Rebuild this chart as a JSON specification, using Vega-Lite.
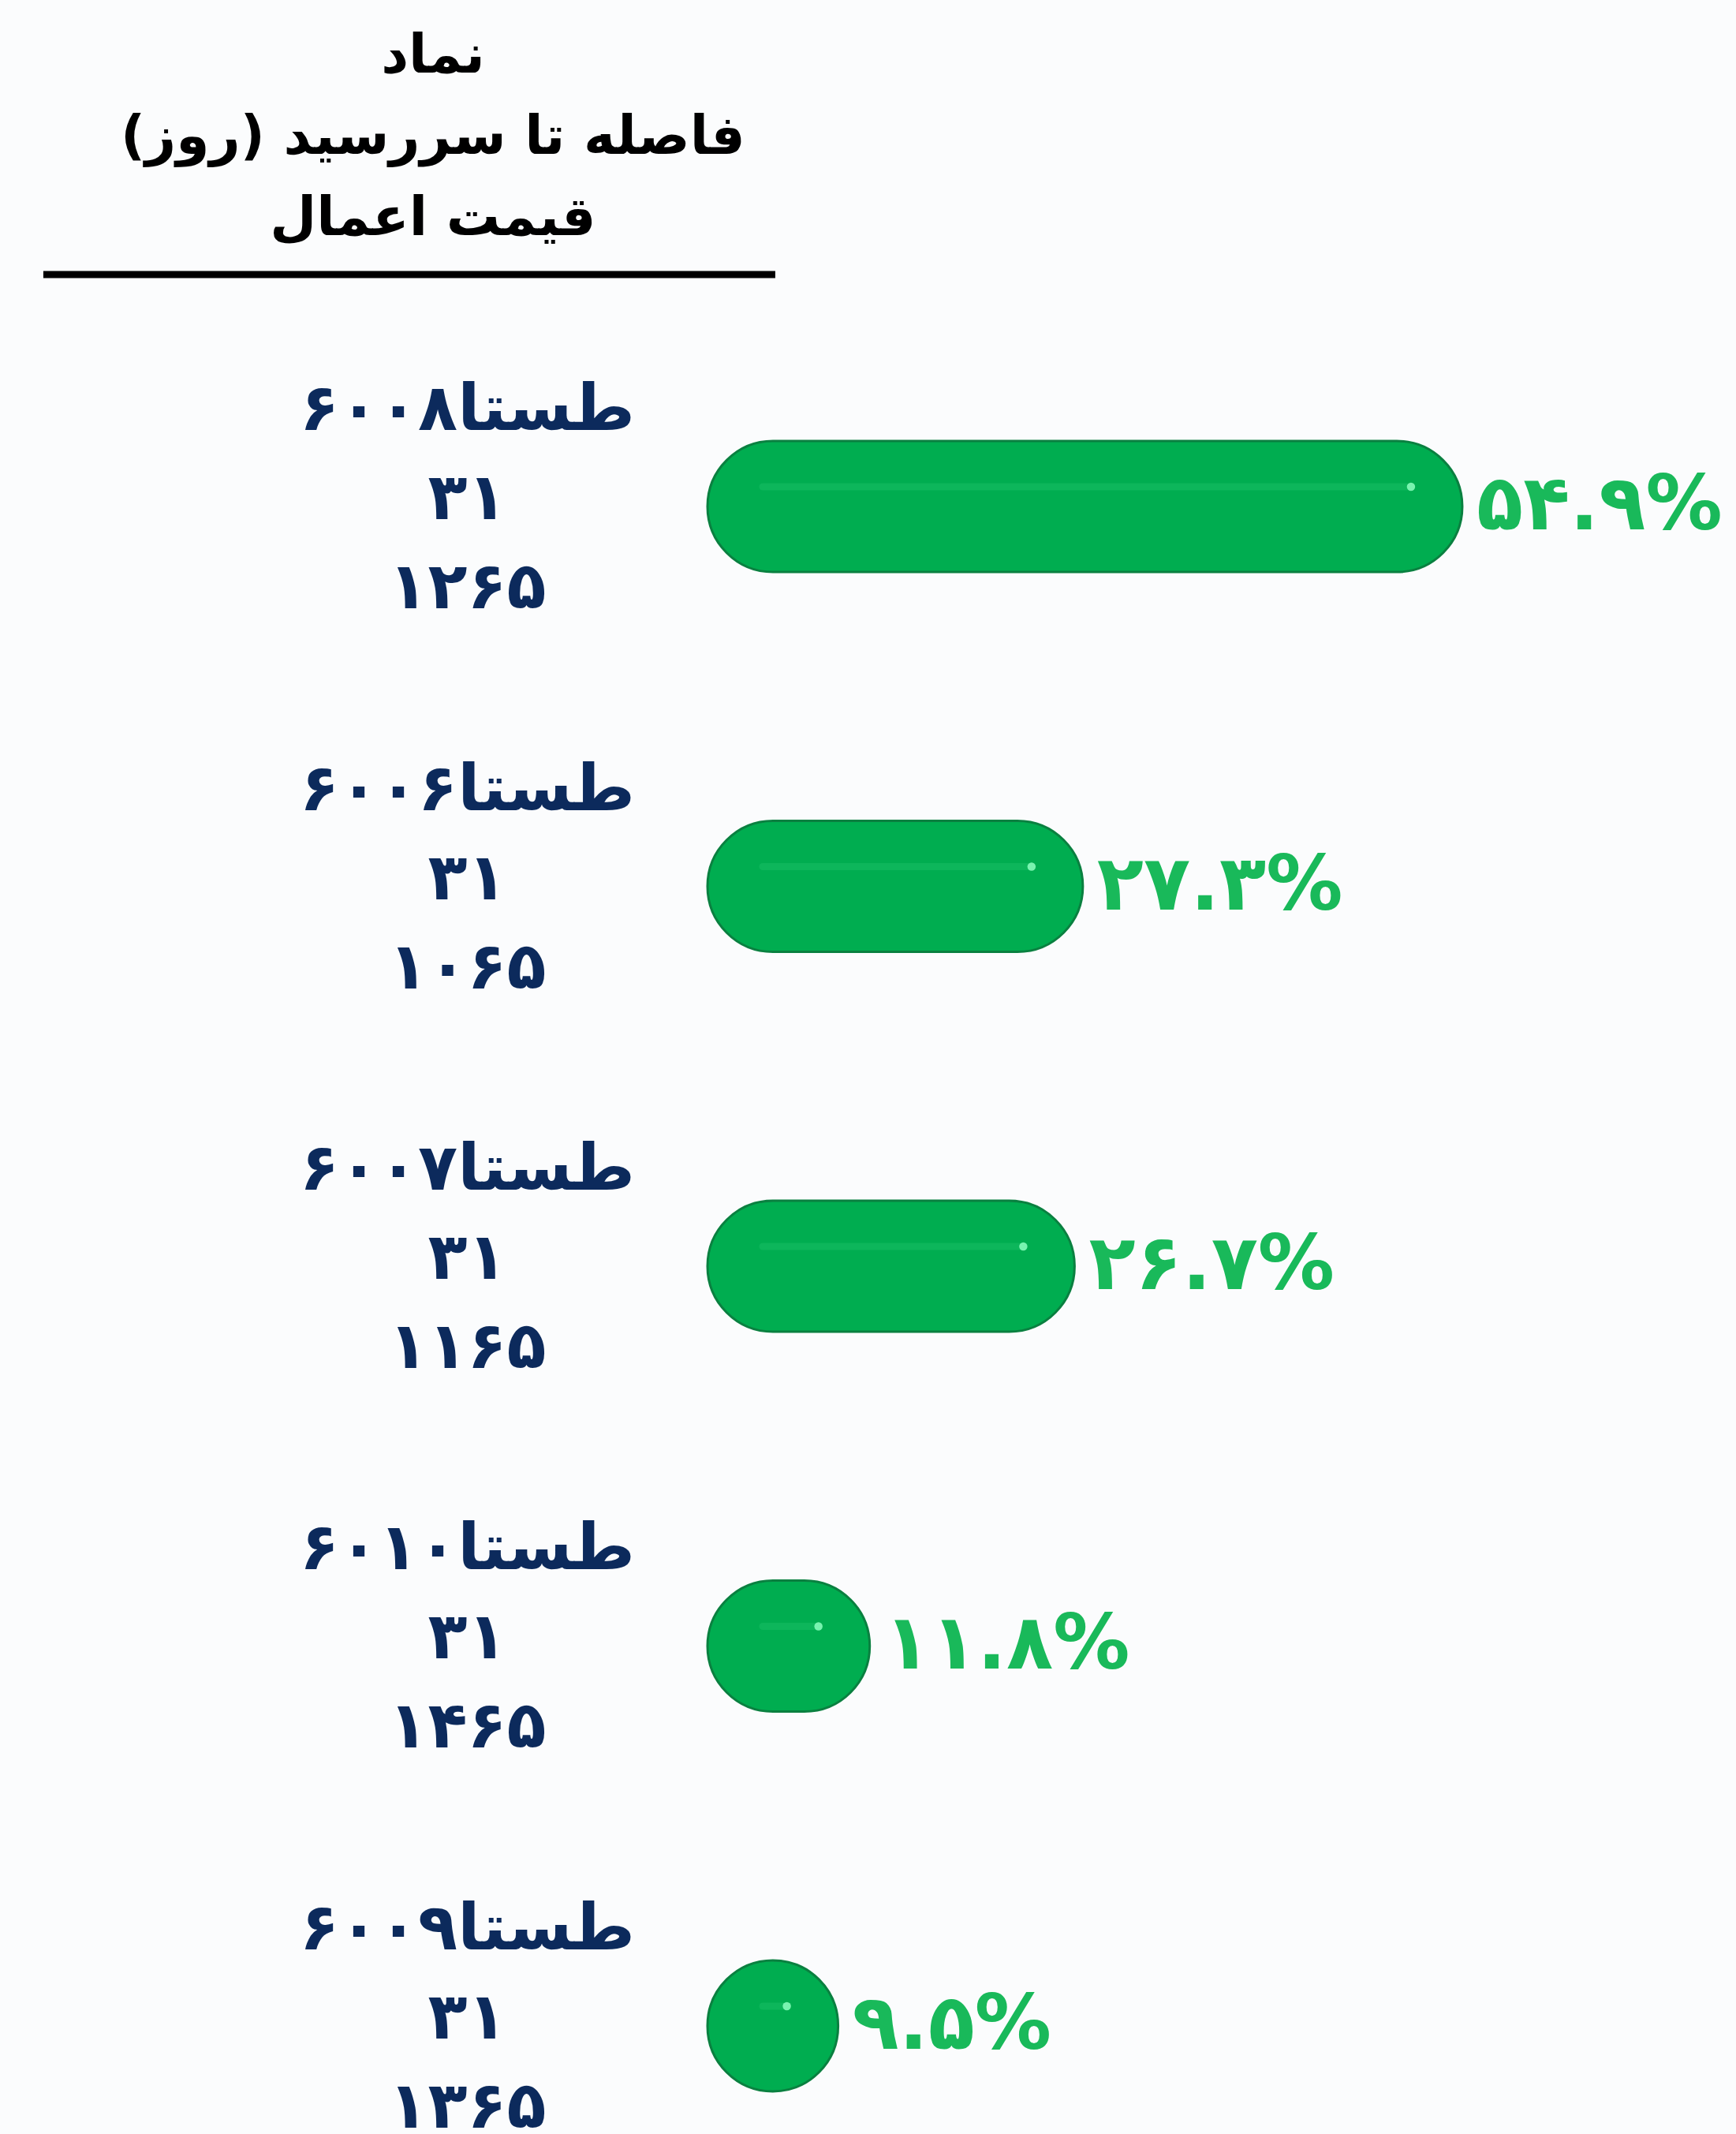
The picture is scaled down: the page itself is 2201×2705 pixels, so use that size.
{
  "$schema": "https://vega.github.io/schema/vega-lite/v6.json",
  "width": 1304,
  "height": 2092,
  "autosize": {"type": "none"},
  "padding": {"left": 897, "top": 559, "right": 0, "bottom": 54},
  "background": "#fbfcfd",
  "config": {"view": {"stroke": null}, "font": "DejaVu Sans"},
  "data": {
    "values": [
      {"name": "طستا۶۰۰۸\n۳۱\n۱۲۶۵", "pct": 54.9, "pct_fa": "۵۴.۹%"},
      {"name": "طستا۶۰۰۶\n۳۱\n۱۰۶۵", "pct": 27.3, "pct_fa": "۲۷.۳%"},
      {"name": "طستا۶۰۰۷\n۳۱\n۱۱۶۵", "pct": 26.7, "pct_fa": "۲۶.۷%"},
      {"name": "طستا۶۰۱۰\n۳۱\n۱۴۶۵", "pct": 11.8, "pct_fa": "۱۱.۸%"},
      {"name": "طستا۶۰۰۹\n۳۱\n۱۳۶۵", "pct": 9.5, "pct_fa": "۹.۵%"}
    ]
  },
  "layer": [
    {
      "mark": {"type": "bar", "cornerRadius": 83, "fill": "#00ad50", "stroke": "#0a8040", "strokeWidth": 3},
      "encoding": {
        "y": {
          "field": "name",
          "type": "nominal",
          "sort": null,
          "scale": {"paddingInner": 0.655, "paddingOuter": 0},
          "axis": {
            "title": null,
            "domain": false,
            "ticks": false,
            "tickSize": 0,
            "grid": false,
            "labelExpr": "split(datum.value, '\\n')",
            "labelAlign": "center",
            "labelBaseline": "middle",
            "labelPadding": 305,
            "labelOffset": -122,
            "labelLimit": 0,
            "labelFontSize": 82,
            "labelLineHeight": 113,
            "labelFontWeight": "bold",
            "labelColor": "#0c2a5c",
            "labelFont": "DejaVu Sans"
          }
        },
        "x": {"field": "pct", "type": "quantitative", "scale": {"domain": [0, 74.81], "nice": false, "zero": false}, "axis": null},
        "x2": {"datum": 0}
      }
    },
    {
      "mark": {"type": "rule", "stroke": "#3ad884", "strokeOpacity": 0.22, "strokeWidth": 9, "strokeCap": "round", "yOffset": -25, "xOffset": -70, "x2Offset": 70},
      "encoding": {
        "y": {"field": "name", "type": "nominal", "sort": null},
        "x": {"field": "pct", "type": "quantitative"},
        "x2": {"datum": 0}
      }
    },
    {
      "mark": {"type": "point", "filled": true, "size": 110, "color": "#8dffc0", "opacity": 0.85, "xOffset": -65, "yOffset": -25},
      "encoding": {
        "y": {"field": "name", "type": "nominal", "sort": null},
        "x": {"field": "pct", "type": "quantitative"}
      }
    },
    {
      "mark": {"type": "text", "align": "left", "baseline": "middle", "dx": 18, "fontSize": 97, "fontWeight": "bold", "fill": "#19b95a", "font": "DejaVu Sans"},
      "encoding": {
        "y": {"field": "name", "type": "nominal", "sort": null},
        "x": {"field": "pct", "type": "quantitative"},
        "text": {"field": "pct_fa", "type": "nominal"}
      }
    },
    {
      "data": {"values": [{"h": "header"}]},
      "mark": {"type": "rule", "stroke": "#000000", "strokeWidth": 9, "yOffset": -294},
      "encoding": {
        "x": {"datum": -48.31, "type": "quantitative"},
        "x2": {"datum": 4.93},
        "y": {"datum": "طستا۶۰۰۸\n۳۱\n۱۲۶۵", "type": "nominal"}
      }
    },
    {
      "data": {"values": [{"h": "header"}]},
      "mark": {
        "type": "text",
        "text": ["نماد", "فاصله تا سررسید (روز)‏", "قیمت اعمال"],
        "align": "center",
        "baseline": "middle",
        "fontSize": 68,
        "lineHeight": 103,
        "fontWeight": "bold",
        "fill": "#000000",
        "font": "DejaVu Sans",
        "yOffset": -570
      },
      "encoding": {
        "x": {"datum": -19.97, "type": "quantitative"},
        "y": {"datum": "طستا۶۰۰۸\n۳۱\n۱۲۶۵", "type": "nominal"}
      }
    }
  ]
}
